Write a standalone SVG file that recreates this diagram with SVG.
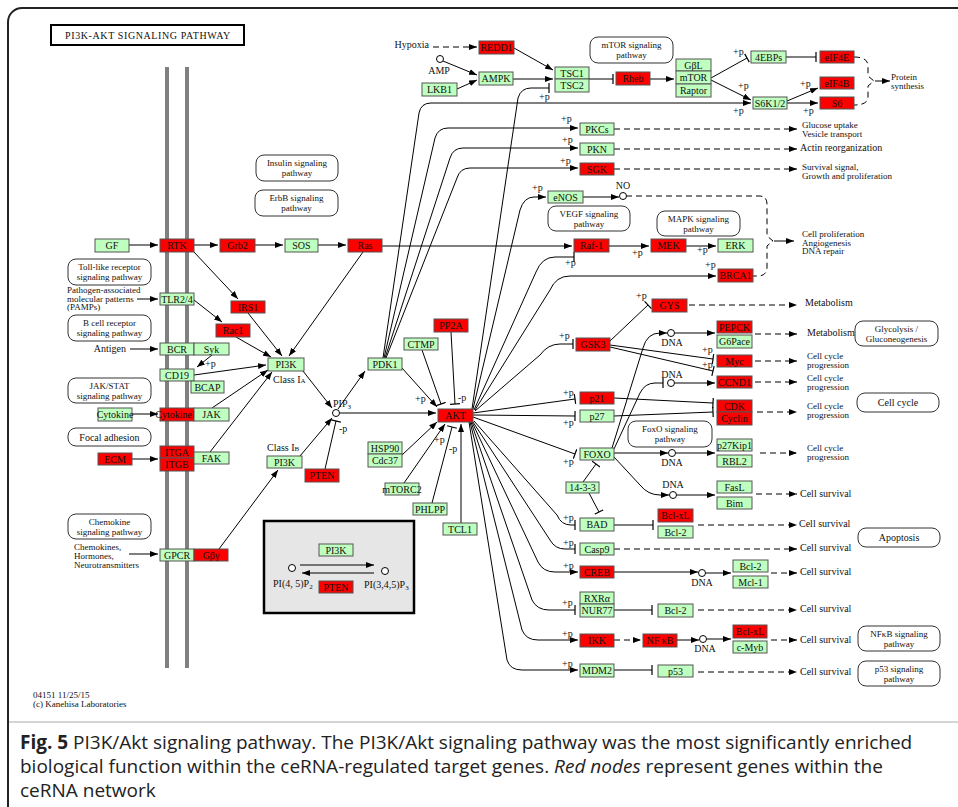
<svg xmlns="http://www.w3.org/2000/svg" width="958" height="807" viewBox="0 0 958 807">
<defs>
<marker id="ar" viewBox="0 0 8 6" refX="8" refY="3" markerWidth="8" markerHeight="6" orient="auto" markerUnits="userSpaceOnUse"><path d="M0,0L8,3L0,6z" fill="#000"/></marker>
<marker id="bar" viewBox="-1 -5 2 10" refX="0" refY="0" markerWidth="2" markerHeight="10" orient="auto" markerUnits="userSpaceOnUse"><path d="M0,-5V5" stroke="#000" stroke-width="1.2"/></marker>
<style>
.g{fill:#bfffbf;stroke:#555;stroke-width:1}
.r{fill:#ff0000;stroke:#555;stroke-width:1}
.pw{fill:#fff;stroke:#333;stroke-width:1}
text{font-family:"Liberation Serif",serif;font-size:10px;fill:#111}
.s{font-size:9px}
.m{text-anchor:middle}
.e{text-anchor:end}
.c{fill:none;stroke:#000;stroke-width:1}
.a{marker-end:url(#ar)}
.b{marker-end:url(#bar)}
.d{stroke-dasharray:6 4}
.cap{font-family:"Open Sans","Liberation Sans",sans-serif;font-size:19px;fill:#222}
.cmp{fill:#fff;stroke:#000;stroke-width:1}
</style>
</defs>
<rect x="0" y="0" width="958" height="807" fill="#fff"/>
<rect x="8" y="8" width="975" height="815" rx="14" fill="none" stroke="#222" stroke-width="2"/>
<line x1="9" y1="722" x2="958" y2="722" stroke="#aaa" stroke-width="1"/>

<g id="title"><rect x="51" y="25" width="193" height="20" fill="#fff" stroke="#000" stroke-width="2"/><text x="148" y="39" class="m" font-size="10.5" letter-spacing="0.6">PI3K-AKT SIGNALING PATHWAY</text></g>

<g id="membrane"><line x1="167" y1="67" x2="167" y2="668" stroke="#808080" stroke-width="4"/><line x1="187" y1="67" x2="187" y2="668" stroke="#808080" stroke-width="4"/></g>

<g id="pathways">
<g id="pw-mtor"><rect class="pw" x="590" y="37" width="83" height="26" rx="8"/><text class="m s" x="631.5" y="48">mTOR signaling</text><text class="m s" x="631.5" y="58">pathway</text></g>
<g id="pw-insulin"><rect class="pw" x="256" y="155" width="82" height="26" rx="8"/><text class="m s" x="297" y="166">Insulin signaling</text><text class="m s" x="297" y="176">pathway</text></g>
<g id="pw-erbb"><rect class="pw" x="255" y="190" width="83" height="26" rx="8"/><text class="m s" x="296.5" y="201">ErbB signaling</text><text class="m s" x="296.5" y="211">pathway</text></g>
<g id="pw-vegf"><rect class="pw" x="548" y="206" width="82" height="25" rx="8"/><text class="m s" x="589" y="216.5">VEGF signaling</text><text class="m s" x="589" y="226.5">pathway</text></g>
<g id="pw-mapk"><rect class="pw" x="657" y="211" width="83" height="25" rx="8"/><text class="m s" x="698.5" y="221.5">MAPK signaling</text><text class="m s" x="698.5" y="231.5">pathway</text></g>
<g id="pw-toll"><rect class="pw" x="68" y="259" width="83" height="26" rx="8"/><text class="m s" x="109.5" y="270">Toll-like receptor</text><text class="m s" x="109.5" y="280">signaling pathway</text></g>
<g id="pw-bcell"><rect class="pw" x="68" y="315" width="83" height="26" rx="8"/><text class="m s" x="109.5" y="326">B cell receptor</text><text class="m s" x="109.5" y="336">signaling pathway</text></g>
<g id="pw-glyco"><rect class="pw" x="855" y="321" width="83" height="25" rx="8"/><text class="m s" x="896.5" y="331.5">Glycolysis /</text><text class="m s" x="896.5" y="341.5">Gluconeogenesis</text></g>
<g id="pw-jak"><rect class="pw" x="68" y="378" width="83" height="25" rx="8"/><text class="m s" x="109.5" y="388.5">JAK/STAT</text><text class="m s" x="109.5" y="398.5">signaling pathway</text></g>
<g id="pw-cellcycle"><rect class="pw" x="857" y="393" width="82" height="19" rx="8"/><text class="m" x="898" y="406">Cell cycle</text></g>
<g id="pw-foxo"><rect class="pw" x="628" y="421" width="84" height="26" rx="8"/><text class="m s" x="670" y="432">FoxO signaling</text><text class="m s" x="670" y="442">pathway</text></g>
<g id="pw-focal"><rect class="pw" x="68" y="428" width="83" height="18" rx="8"/><text class="m" x="109.5" y="440.5">Focal adhesion</text></g>
<g id="pw-chemokine"><rect class="pw" x="68" y="514" width="83" height="25" rx="8"/><text class="m s" x="109.5" y="524.5">Chemokine</text><text class="m s" x="109.5" y="534.5">signaling pathway</text></g>
<g id="pw-apoptosis"><rect class="pw" x="858" y="528" width="82" height="19" rx="8"/><text class="m" x="899" y="541">Apoptosis</text></g>
<g id="pw-nfkb"><rect class="pw" x="858" y="626" width="82" height="25" rx="8"/><text class="m s" x="899" y="636.5">NFκB signaling</text><text class="m s" x="899" y="646.5">pathway</text></g>
<g id="pw-p53"><rect class="pw" x="858" y="661" width="82" height="25" rx="8"/><text class="m s" x="899" y="671.5">p53 signaling</text><text class="m s" x="899" y="681.5">pathway</text></g>
</g>

<g id="inset"><rect x="264" y="521" width="150" height="92" fill="#e6e6e6" stroke="#000" stroke-width="2.5"/></g>

<g id="connectors">
<path class="c d a" d="M433,47H477"/>
<path class="c a" d="M514,48L553,70"/>
<path class="c a" d="M443,61L477,75"/>
<path class="c a" d="M457,89L477,80"/>
<path class="c a" d="M513,79H553"/>
<path class="c b" d="M589,79H613"/>
<path class="c a" d="M650,79H674"/>
<path class="c b" d="M711,78L747,58"/>
<path class="c a" d="M711,80L751,100"/>
<path class="c b" d="M786,57H816"/>
<path class="c a" d="M787,101L818,88"/>
<path class="c a" d="M787,103H818"/>
<path class="c d" d="M854,57Q868,57 868,66V76L874,81L868,86V97Q868,105 854,105"/>
<path class="c a" d="M875,81H890"/>
<path class="c b" d="M472,409L518,98Q521,88 531,88H549"/>
<path class="c a" d="M383,358L419,113Q421,103 431,103H751"/>
<path class="c a" d="M384,358L435,138Q438,128 448,128H578"/>
<path class="c a" d="M385,358L450,158Q453,148 463,148H578"/>
<path class="c a" d="M386,358L457,178Q460,168 470,168H578"/>
<path class="c d a" d="M614,129H797"/>
<path class="c d a" d="M614,149H797"/>
<path class="c d a" d="M614,169H797"/>
<path class="c a" d="M473,409L520,210Q524,197 534,197H546"/>
<path class="c a" d="M583,197H619"/>
<path class="c d" d="M626,196H759Q767,196 767,204V236L773,241L767,246V267Q767,276 758,276H753"/>
<path class="c a" d="M774,241H794"/>
<path class="c a" d="M129,245H158"/>
<path class="c a" d="M194,245H218"/>
<path class="c a" d="M255,245H283"/>
<path class="c a" d="M318,245H346"/>
<path class="c a" d="M382,246H572"/>
<path class="c a" d="M609,246H649"/>
<path class="c a" d="M686,246H716"/>
<path class="c b" d="M474,410L536,272Q542,257 555,257H574"/>
<path class="c a" d="M475,410L550,290Q556,276 570,276H716"/>
<path class="c b" d="M475,411L540,355Q548,344 560,344H573"/>
<path class="c a" d="M194,252L238,299"/>
<path class="c a" d="M363,252L289,356"/>
<path class="c a" d="M248,313L282,356"/>
<path class="c a" d="M236,337L271,357"/>
<path class="c a" d="M137,299H158"/>
<path class="c a" d="M194,300L222,322"/>
<path class="c a" d="M130,349H158"/>
<path class="c a" d="M212,355L197,367"/>
<path class="c a" d="M194,375L266,365"/>
<path class="c a" d="M212,408L268,370"/>
<path class="c a" d="M210,452L272,372"/>
<path class="c a" d="M132,414H158"/>
<path class="c a" d="M132,459H158"/>
<path class="c a" d="M129,554H158"/>
<path class="c a" d="M219,549L278,470"/>
<path class="c a" d="M303,371L332,408"/>
<path class="c a" d="M300,456L332,418"/>
<path class="c b" d="M325,469L336,421"/>
<path class="c a" d="M338,409L365,371"/>
<path class="c a" d="M340,413H436"/>
<path class="c a" d="M402,368L437,407"/>
<path class="c b" d="M422,350L441,404"/>
<path class="c b" d="M451,332L455,404"/>
<path class="c a" d="M402,455L437,422"/>
<path class="c a" d="M404,483L445,424"/>
<path class="c b" d="M432,503L452,427"/>
<path class="c a" d="M461,523V424"/>
<path class="c b" d="M473,413L575,399"/>
<path class="c b" d="M473,415L575,416"/>
<path class="c b" d="M473,417L575,454"/>
<path class="c b" d="M474,421L557,515Q561,525 571,525H575"/>
<path class="c b" d="M473,422L550,540Q555,549 565,549H575"/>
<path class="c a" d="M472,422L538,562Q543,572 555,572H578"/>
<path class="c b" d="M471,422L532,600Q537,610 549,610H575"/>
<path class="c a" d="M470,422L522,630Q526,640 538,640H578"/>
<path class="c a" d="M469,422L507,660Q510,670 522,670H578"/>
<path class="c b" d="M610,341L648,305"/>
<path class="c d a" d="M689,305H797"/>
<path class="c b" d="M610,345L713,359"/>
<path class="c b" d="M610,347L713,371"/>
<path class="c a" d="M612,448L643,348Q647,333 660,333H667"/>
<path class="c a" d="M675,333H715"/>
<path class="c d a" d="M755,334H797"/>
<path class="c d a" d="M755,361H797"/>
<path class="c b" d="M614,449L640,393Q645,383 655,383H663"/>
<path class="c a" d="M675,383H715"/>
<path class="c d a" d="M755,382H797"/>
<path class="c b" d="M614,398L713,403"/>
<path class="c b" d="M614,416L713,412"/>
<path class="c d a" d="M757,412H797"/>
<path class="c a" d="M614,453H668"/>
<path class="c a" d="M676,453H715"/>
<path class="c d a" d="M760,453H797"/>
<path class="c a" d="M614,457L640,485Q648,495 660,495H669"/>
<path class="c a" d="M677,495H715"/>
<path class="c d a" d="M756,494H797"/>
<path class="c b" d="M583,482L596,464"/>
<path class="c b" d="M589,493L599,512"/>
<path class="c b" d="M614,525H653"/>
<path class="c d a" d="M698,525H797"/>
<path class="c d a" d="M614,549H797"/>
<path class="c a" d="M614,572H698"/>
<path class="c a" d="M706,573H731"/>
<path class="c d a" d="M771,573H797"/>
<path class="c b" d="M614,610H652"/>
<path class="c d a" d="M698,610H797"/>
<path class="c d a" d="M614,640H641"/>
<path class="c a" d="M677,640H699"/>
<path class="c a" d="M707,639H731"/>
<path class="c d a" d="M771,640H797"/>
<path class="c b" d="M614,670H652"/>
<path class="c d a" d="M698,672H797"/>
<path class="c a" d="M300,565H374"/>
<path class="c a" d="M374,573H302"/>
</g>

<g id="compounds">
<circle class="cmp" cx="440" cy="59" r="3.5"/>
<circle class="cmp" cx="623" cy="196" r="3.5"/>
<circle class="cmp" cx="336" cy="413" r="3.5"/>
<circle class="cmp" cx="671" cy="333" r="3.5"/>
<circle class="cmp" cx="671" cy="383" r="3.5"/>
<circle class="cmp" cx="672" cy="453" r="3.5"/>
<circle class="cmp" cx="673" cy="495" r="3.5"/>
<circle class="cmp" cx="702" cy="573" r="3.5"/>
<circle class="cmp" cx="703" cy="639" r="3.5"/>
<circle class="cmp" cx="292" cy="568" r="3.5"/>
<circle class="cmp" cx="385" cy="571" r="3.5"/>
</g>

<g id="nodes">
<g id="n-redd1"><rect class="r" x="479" y="41" width="35" height="13"/><text class="m" x="496.5" y="51">REDD1</text></g>
<g id="n-ampk"><rect class="g" x="479" y="72" width="34" height="13"/><text class="m" x="496" y="82">AMPK</text></g>
<g id="n-lkb1"><rect class="g" x="422" y="83" width="35" height="13"/><text class="m" x="439.5" y="93">LKB1</text></g>
<g id="n-tsc"><rect class="g" x="555" y="67" width="34" height="12"/><text class="m" x="572" y="76.5">TSC1</text><rect class="g" x="555" y="79" width="34" height="13"/><text class="m" x="572" y="89">TSC2</text></g>
<g id="n-rheb"><rect class="r" x="616" y="72" width="34" height="13"/><text class="m" x="633" y="82">Rheb</text></g>
<g id="n-mtor"><rect class="g" x="676" y="59" width="35" height="12"/><text class="m" x="693.5" y="68.5">GβL</text><rect class="g" x="676" y="71" width="35" height="13"/><text class="m" x="693.5" y="81">mTOR</text><rect class="g" x="676" y="84" width="35" height="13"/><text class="m" x="693.5" y="94">Raptor</text></g>
<g id="n-4ebps"><rect class="g" x="751" y="51" width="35" height="12"/><text class="m" x="768.5" y="60.5">4EBPs</text></g>
<g id="n-eif4e"><rect class="r" x="820" y="51" width="34" height="12"/><text class="m" x="837" y="60.5">eIF4E</text></g>
<g id="n-eif4b"><rect class="r" x="820" y="77" width="34" height="12"/><text class="m" x="837" y="86.5">eIF4B</text></g>
<g id="n-s6"><rect class="r" x="820" y="97" width="34" height="12"/><text class="m" x="837" y="106.5">S6</text></g>
<g id="n-s6k"><rect class="g" x="753" y="97" width="34" height="12"/><text class="m" x="770" y="106.5">S6K1/2</text></g>
<g id="n-pkcs"><rect class="g" x="580" y="123" width="34" height="12"/><text class="m" x="597" y="132.5">PKCs</text></g>
<g id="n-pkn"><rect class="g" x="580" y="143" width="34" height="12"/><text class="m" x="597" y="152.5">PKN</text></g>
<g id="n-sgk"><rect class="r" x="580" y="163" width="34" height="12"/><text class="m" x="597" y="172.5">SGK</text></g>
<g id="n-enos"><rect class="g" x="548" y="191" width="35" height="12"/><text class="m" x="565.5" y="200.5">eNOS</text></g>
<g id="n-gf"><rect class="g" x="95" y="239" width="34" height="13"/><text class="m" x="112" y="249">GF</text></g>
<g id="n-rtk"><rect class="r" x="160" y="239" width="34" height="13"/><text class="m" x="177" y="249">RTK</text></g>
<g id="n-grb2"><rect class="r" x="220" y="239" width="35" height="13"/><text class="m" x="237.5" y="249">Grb2</text></g>
<g id="n-sos"><rect class="g" x="285" y="239" width="33" height="13"/><text class="m" x="301.5" y="249">SOS</text></g>
<g id="n-ras"><rect class="r" x="348" y="239" width="34" height="13"/><text class="m" x="365" y="249">Ras</text></g>
<g id="n-raf1"><rect class="r" x="574" y="239" width="35" height="13"/><text class="m" x="591.5" y="249">Raf-1</text></g>
<g id="n-mek"><rect class="r" x="651" y="239" width="35" height="13"/><text class="m" x="668.5" y="249">MEK</text></g>
<g id="n-erk"><rect class="g" x="718" y="239" width="35" height="13"/><text class="m" x="735.5" y="249">ERK</text></g>
<g id="n-brca1"><rect class="r" x="718" y="269" width="35" height="13"/><text class="m" x="735.5" y="279">BRCA1</text></g>
<g id="n-tlr"><rect class="g" x="160" y="293" width="34" height="12"/><text class="m" x="177" y="302.5">TLR2/4</text></g>
<g id="n-irs1"><rect class="r" x="231" y="301" width="34" height="12"/><text class="m" x="248" y="310.5">IRS1</text></g>
<g id="n-rac1"><rect class="r" x="216" y="324" width="34" height="13"/><text class="m" x="233" y="334">Rac1</text></g>
<g id="n-gys"><rect class="r" x="652" y="299" width="35" height="13"/><text class="m" x="669.5" y="309">GYS</text></g>
<g id="n-pp2a"><rect class="r" x="434" y="319" width="34" height="13"/><text class="m" x="451" y="329">PP2A</text></g>
<g id="n-gsk3"><rect class="r" x="576" y="338" width="34" height="13"/><text class="m" x="593" y="348">GSK3</text></g>
<g id="n-ctmp"><rect class="g" x="404" y="338" width="34" height="12"/><text class="m" x="421" y="347.5">CTMP</text></g>
<g id="n-pepck"><rect class="r" x="717" y="321" width="35" height="12"/><text class="m" x="734.5" y="330.5">PEPCK</text></g>
<g id="n-g6pace"><rect class="g" x="717" y="335" width="35" height="13"/><text class="m" x="734.5" y="345">G6Pace</text></g>
<g id="n-bcr"><rect class="g" x="160" y="343" width="34" height="12"/><text class="m" x="177" y="352.5">BCR</text><rect class="g" x="194" y="343" width="35" height="12"/><text class="m" x="211.5" y="352.5">Syk</text></g>
<g id="n-pdk1"><rect class="g" x="368" y="358" width="34" height="12"/><text class="m" x="385" y="367.5">PDK1</text></g>
<g id="n-pi3k-ia"><rect class="g" x="268" y="358" width="36" height="13"/><text class="m" x="286" y="368">PI3K</text></g>
<g id="n-myc"><rect class="r" x="717" y="355" width="35" height="12"/><text class="m" x="734.5" y="364.5">Myc</text></g>
<g id="n-cd19"><rect class="g" x="160" y="369" width="34" height="12"/><text class="m" x="177" y="378.5">CD19</text></g>
<g id="n-bcap"><rect class="g" x="191" y="381" width="33" height="12"/><text class="m" x="207.5" y="390.5">BCAP</text></g>
<g id="n-ccnd1"><rect class="r" x="717" y="376" width="35" height="12"/><text class="m" x="734.5" y="385.5">CCND1</text></g>
<g id="n-p21"><rect class="r" x="580" y="392" width="34" height="12"/><text class="m" x="597" y="401.5">p21</text></g>
<g id="n-cdk"><rect class="r" x="717" y="400" width="35" height="12"/><text class="m" x="734.5" y="409.5">CDK</text><rect class="r" x="717" y="412" width="35" height="13"/><text class="m" x="734.5" y="422">Cyclin</text></g>
<g id="n-cytokine"><rect class="g" x="98" y="408" width="34" height="13"/><text class="m" x="115" y="418" font-size="9">Cytokine</text></g>
<g id="n-cytokiner"><rect class="r" x="160" y="408" width="34" height="13"/><text class="m" x="177" y="417.5" font-size="7.5">CytokineR</text><rect class="g" x="194" y="408" width="35" height="13"/><text class="m" x="211.5" y="418">JAK</text></g>
<g id="n-akt"><rect class="r" x="438" y="409" width="35" height="13"/><text class="m" x="455.5" y="419">AKT</text></g>
<g id="n-p27"><rect class="g" x="580" y="410" width="34" height="12"/><text class="m" x="597" y="419.5">p27</text></g>
<g id="n-p27kip1"><rect class="g" x="717" y="439" width="35" height="12"/><text class="m" x="734.5" y="448.5" font-size="9">p27Kip1</text></g>
<g id="n-rbl2"><rect class="g" x="717" y="455" width="35" height="12"/><text class="m" x="734.5" y="464.5">RBL2</text></g>
<g id="n-hsp90"><rect class="g" x="368" y="442" width="34" height="12"/><text class="m" x="385" y="451.5">HSP90</text><rect class="g" x="368" y="454" width="34" height="13"/><text class="m" x="385" y="464">Cdc37</text></g>
<g id="n-foxo"><rect class="g" x="580" y="448" width="34" height="12"/><text class="m" x="597" y="457.5">FOXO</text></g>
<g id="n-itg"><rect class="r" x="160" y="446" width="34" height="12"/><text class="m" x="177" y="455.5">ITGA</text><rect class="r" x="160" y="458" width="34" height="13"/><text class="m" x="177" y="468">ITGB</text></g>
<g id="n-fak"><rect class="g" x="194" y="452" width="35" height="12"/><text class="m" x="211.5" y="461.5">FAK</text></g>
<g id="n-pi3k-ib"><rect class="g" x="267" y="456" width="35" height="12"/><text class="m" x="284.5" y="465.5">PI3K</text></g>
<g id="n-pten"><rect class="r" x="305" y="469" width="34" height="13"/><text class="m" x="322" y="479">PTEN</text></g>
<g id="n-fasl"><rect class="g" x="717" y="481" width="35" height="12"/><text class="m" x="734.5" y="490.5">FasL</text><rect class="g" x="717" y="497" width="35" height="12"/><text class="m" x="734.5" y="506.5">Bim</text></g>
<g id="n-1433"><rect class="g" x="566" y="482" width="33" height="11"/><text class="m" x="582.5" y="491">14-3-3</text></g>
<g id="n-mtorc2"><rect class="g" x="385" y="483" width="34" height="12"/><text class="m" x="402" y="492.5" font-size="9">mTORC2</text></g>
<g id="n-phlpp"><rect class="g" x="413" y="503" width="34" height="12"/><text class="m" x="430" y="512.5">PHLPP</text></g>
<g id="n-bclxl1"><rect class="r" x="658" y="509" width="35" height="13"/><text class="m" x="675.5" y="519">Bcl-xL</text><rect class="g" x="658" y="526" width="35" height="12"/><text class="m" x="675.5" y="535.5">Bcl-2</text></g>
<g id="n-bad"><rect class="g" x="580" y="518" width="34" height="13"/><text class="m" x="597" y="528">BAD</text></g>
<g id="n-tcl1"><rect class="g" x="443" y="523" width="34" height="12"/><text class="m" x="460" y="532.5">TCL1</text></g>
<g id="n-casp9"><rect class="g" x="580" y="543" width="34" height="12"/><text class="m" x="597" y="552.5">Casp9</text></g>
<g id="n-ecm"><rect class="r" x="98" y="453" width="34" height="12"/><text class="m" x="115" y="462.5">ECM</text></g>
<g id="n-gpcr"><rect class="g" x="160" y="549" width="34" height="12"/><text class="m" x="177" y="558.5">GPCR</text><rect class="r" x="194" y="549" width="34" height="12"/><text class="m" x="211" y="558.5">Gβγ</text></g>
<g id="n-bcl2-creb"><rect class="g" x="733" y="560" width="35" height="12"/><text class="m" x="750.5" y="569.5">Bcl-2</text><rect class="g" x="733" y="576" width="35" height="12"/><text class="m" x="750.5" y="585.5">Mcl-1</text></g>
<g id="n-creb"><rect class="r" x="580" y="566" width="34" height="12"/><text class="m" x="597" y="575.5">CREB</text></g>
<g id="n-nur77"><rect class="g" x="580" y="592" width="34" height="12"/><text class="m" x="597" y="601.5">RXRα</text><rect class="g" x="580" y="604" width="34" height="13"/><text class="m" x="597" y="614">NUR77</text></g>
<g id="n-bcl2-nur"><rect class="g" x="658" y="604" width="35" height="13"/><text class="m" x="675.5" y="614">Bcl-2</text></g>
<g id="n-ikk"><rect class="r" x="580" y="634" width="34" height="13"/><text class="m" x="597" y="644">IKK</text></g>
<g id="n-nfkb"><rect class="r" x="643" y="634" width="34" height="13"/><text class="m" x="660" y="644">NF κB</text></g>
<g id="n-bclxl2"><rect class="r" x="733" y="625" width="34" height="13"/><text class="m" x="750" y="635">Bcl-xL</text><rect class="g" x="733" y="641" width="34" height="12"/><text class="m" x="750" y="650.5">c-Myb</text></g>
<g id="n-mdm2"><rect class="g" x="580" y="664" width="34" height="13"/><text class="m" x="597" y="674">MDM2</text></g>
<g id="n-p53"><rect class="g" x="658" y="665" width="35" height="12"/><text class="m" x="675.5" y="674.5">p53</text></g>
<g id="n-inset-pi3k"><rect class="g" x="319" y="544" width="34" height="12"/><text class="m" x="336" y="553.5">PI3K</text></g>
<g id="n-inset-pten"><rect class="r" x="319" y="581" width="34" height="12"/><text class="m" x="336" y="590.5">PTEN</text></g>
</g>

<g id="labels">
<text class="e" x="429" y="48">Hypoxia</text>
<text class="m" x="439" y="74">AMP</text>
<text class="s" x="891" y="80">Protein</text><text class="s" x="891" y="89">synthesis</text>
<text class="s" x="802" y="128">Glucose uptake</text><text class="s" x="802" y="137">Vesicle transport</text>
<text x="800" y="151">Actin reorganization</text>
<text class="s" x="802" y="170">Survival signal,</text><text class="s" x="802" y="179">Growth and proliferation</text>
<text class="m" x="623" y="189">NO</text>
<text class="s" x="802" y="237">Cell proliferation</text><text class="s" x="802" y="245.5">Angiogenesis</text><text class="s" x="802" y="254">DNA repair</text>
<text class="s" x="67" y="293">Pathogen-associated</text><text class="s" x="67" y="301.5">molecular patterns</text><text class="s" x="67" y="310">(PAMPs)</text>
<text class="e" x="126" y="352">Antigen</text>
<text x="805" y="306">Metabolism</text>
<text x="807" y="336">Metabolism</text>
<text class="s" x="807" y="359">Cell cycle</text><text class="s" x="807" y="368">progression</text>
<text class="s" x="807" y="381">Cell cycle</text><text class="s" x="807" y="390">progression</text>
<text class="s" x="807" y="409">Cell cycle</text><text class="s" x="807" y="418">progression</text>
<text class="s" x="807" y="451">Cell cycle</text><text class="s" x="807" y="460">progression</text>
<text x="800" y="497">Cell survival</text>
<text x="799" y="527">Cell survival</text>
<text x="800" y="551">Cell survival</text>
<text x="800" y="575">Cell survival</text>
<text x="800" y="612">Cell survival</text>
<text x="800" y="643">Cell survival</text>
<text x="800" y="675">Cell survival</text>
<text x="273" y="383">Class I<tspan font-size="7">A</tspan></text>
<text x="267" y="451">Class I<tspan font-size="7">B</tspan></text>
<text x="333" y="407">PIP<tspan font-size="7" dy="1.5">3</tspan></text>
<text class="m" x="672" y="346">DNA</text>
<text class="m" x="672" y="378">DNA</text>
<text class="m" x="672" y="466">DNA</text>
<text class="m" x="673" y="488">DNA</text>
<text class="m" x="702" y="586">DNA</text>
<text class="m" x="705" y="652">DNA</text>
<text class="s" x="74" y="550">Chemokines,</text><text class="s" x="74" y="559">Hormones,</text><text class="s" x="74" y="568">Neurotransmitters</text>
<text x="273" y="587">PI(4, 5)P<tspan font-size="7" dy="1.5">2</tspan></text>
<text x="364" y="588">PI(3,4,5)P<tspan font-size="7" dy="1.5">3</tspan></text>
<text class="s" x="33" y="698">04151 11/25/15</text>
<text class="s" x="33" y="707">(c) Kanehisa Laboratories</text>
<text x="539" y="100">+p</text>
<text x="733" y="55">+p</text>
<text x="738" y="89">+p</text>
<text x="800" y="87">+p</text>
<text x="803" y="114">+p</text>
<text x="733" y="114">+p</text>
<text x="561" y="122">+p</text>
<text x="562" y="143">+p</text>
<text x="560" y="164">+p</text>
<text x="532" y="191">+p</text>
<text x="632" y="256">+p</text>
<text x="697" y="253">+p</text>
<text x="565" y="266">+p</text>
<text x="705" y="268">+p</text>
<text x="636" y="299">+p</text>
<text x="559" y="339">+p</text>
<text x="702" y="353">+p</text>
<text x="702" y="368">+p</text>
<text x="205" y="367">+p</text>
<text x="415" y="402">+p</text>
<text x="458" y="401">-p</text>
<text x="339" y="432">-p</text>
<text x="434" y="443">+p</text>
<text x="449" y="452">-p</text>
<text x="563" y="396">+p</text>
<text x="563" y="426">+p</text>
<text x="563" y="465">+p</text>
<text x="563" y="521">+p</text>
<text x="563" y="546">+p</text>
<text x="563" y="569">+p</text>
<text x="562" y="606">+p</text>
<text x="562" y="637">+p</text>
<text x="562" y="667">+p</text>
</g>

<g id="caption">
<text class="cap" x="20" y="749"><tspan font-weight="bold">Fig. 5</tspan> PI3K/Akt signaling pathway. The PI3K/Akt signaling pathway was the most significantly enriched</text>
<text class="cap" x="20" y="773">biological function within the ceRNA-regulated target genes. <tspan font-style="italic">Red nodes</tspan> represent genes within the</text>
<text class="cap" x="20" y="797">ceRNA network</text>
</g>
</svg>
